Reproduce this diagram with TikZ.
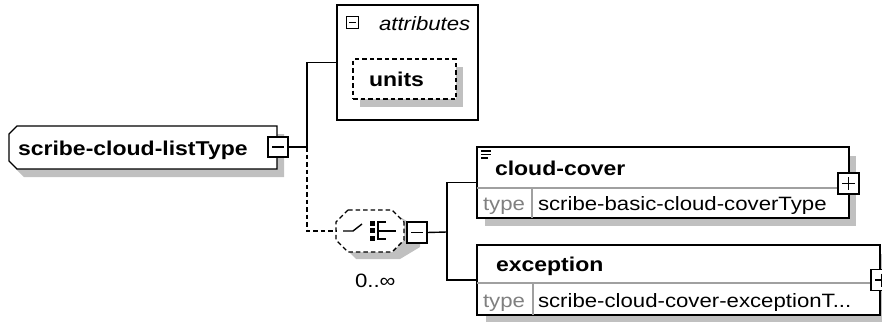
\documentclass[tikz,border=0pt]{standalone}
\usepackage{fontspec}
\setmainfont[FakeStretch=1.15]{Liberation Sans}
\definecolor{shadowgray}{HTML}{C0C0C0}
\definecolor{divgray}{HTML}{A0A0A0}
\definecolor{typegray}{HTML}{808080}
\tikzset{
  every node/.style={inner sep=0pt, outer sep=0pt},
  elbox/.style={draw=black, fill=white, line width=1.4pt, rectangle, anchor=north west},
  btnbox/.style={draw=black, fill=white, line width=1.4pt, rectangle, minimum width=20pt, minimum height=20pt},
  dashline/.style={dash pattern=on 4.5pt off 3pt},
  boldtext/.style={font=\bfseries\fontsize{20}{24}\selectfont, anchor=base west},
  regtext/.style={font=\fontsize{19.3}{23}\selectfont, anchor=base west},
  typetext/.style={font=\fontsize{19.3}{23}\selectfont, anchor=base west, text=typegray},
  divider/.style={draw=divgray, line width=1.2pt},
  conn/.style={draw=black, line width=1.4pt}
}
\begin{document}
\begin{tikzpicture}[x=1pt,y=-1pt,line width=1.4pt]
\useasboundingbox[fill=white] (0,0) rectangle (882,321);

% ---------- main complex type node ----------
\fill[shadowgray] (24,134) -- (284,134) -- (284,177) -- (24,177) -- (16,169) -- (16,142) -- cycle;
\draw[fill=white] (17,126) -- (277,126) -- (277,169) -- (17,169) -- (9,161) -- (9,134) -- cycle;
\node[boldtext] (maintxt) at (18,155) {scribe-cloud-listType};
\node[btnbox] (mainbtn) at (278,147) {};
\draw ([xshift=4pt]mainbtn.west) -- ([xshift=-4pt]mainbtn.east);

% ---------- attributes ----------
\node[elbox, minimum width=141pt, minimum height=115pt] (attr) at (337,5) {};
\node[draw=black, fill=white, line width=1.4pt, minimum width=12pt, minimum height=12pt] (attrbtn) at (352.5,22.5) {};
\draw ([xshift=2.5pt]attrbtn.west) -- ([xshift=-2.5pt]attrbtn.east);
\node[regtext, font=\itshape\fontsize{19.3}{23}\selectfont] (attrtxt) at (379,31) {attributes};
\fill[shadowgray] (360,67) rectangle (463,107);
\node[elbox, dashline, minimum width=103pt, minimum height=40pt] (units) at (353,59) {};
\node[boldtext] (unitstxt) at (369,86) {units};

% ---------- sequence compositor ----------
\fill[shadowgray] (356,217) -- (400,217) -- (420,229) -- (420,247) -- (400,259) -- (356,259) -- (344,247) -- (344,229) -- cycle;
\node[minimum width=68pt, minimum height=42pt, anchor=north west] (comp) at (336,210) {};
\draw[fill=white, dashline] (348,210) -- (392,210) -- (404,222) -- (404,240) -- (392,252) -- (348,252) -- (336,240) -- (336,222) -- cycle;
% compositor icon
\draw (343,231) -- (353,231) -- (362,224);
\fill (370,220.5) rectangle (375,225.5);
\fill (370,227.5) rectangle (375,232.5);
\fill (370,235.5) rectangle (375,240.5);
\draw (386,222) -- (378,222) -- (378,239) -- (386,239);
\draw (378,231) -- (396,231);
\node[btnbox, minimum height=21pt] (compbtn) at (417,232.5) {};
\draw ([xshift=4pt]compbtn.west) -- ([xshift=-4pt]compbtn.east);
\node[regtext] (occ) at (355,287) {0..∞};

% ---------- cloud-cover element ----------
\fill[shadowgray] (485,156) rectangle (856,226);
\node[elbox, minimum width=372pt, minimum height=71pt] (cc) at (477,147) {};
\draw[divider] (477,188) -- (849,188);
\draw[divider] (532,188) -- (532,218);
\draw[line width=1.4pt] (481,151) -- (491,151) (481,154.5) -- (491,154.5) (481,158) -- (488,158);
\node[boldtext] (cctxt) at (495,175) {cloud-cover};
\node[typetext] (cctype) at (483,210) {type};
\node[regtext] (cctypeval) at (538,210) {scribe-basic-cloud-coverType};
\node[btnbox, minimum width=21pt, minimum height=21pt] (ccbtn) at (848.5,183.5) {};
\draw ([xshift=4pt]ccbtn.west) -- ([xshift=-4pt]ccbtn.east);
\draw ([yshift=-4pt]ccbtn.north) -- ([yshift=4pt]ccbtn.south);

% ---------- exception element ----------
\fill[shadowgray] (486,254) rectangle (890,323);
\node[elbox, minimum width=403pt, minimum height=70pt] (exc) at (477,245) {};
\draw[divider] (477,283) -- (880,283);
\draw[divider] (533,283) -- (533,315);
\node[boldtext] (exctxt) at (496,271) {exception};
\node[typetext] (exctype) at (483,307) {type};
\node[regtext] (exctypeval) at (538,307) {scribe-cloud-cover-exceptionT...};
\node[btnbox, minimum width=21pt, minimum height=21pt] (excbtn) at (881.5,280) {};
\draw ([xshift=4pt]excbtn.west) -- ([xshift=-4pt]excbtn.east);
\draw ([yshift=-4pt]excbtn.north) -- ([yshift=4pt]excbtn.south);

% ---------- connectors ----------
\coordinate (j1) at (307,147);
\coordinate (j2) at (447,232);
\draw[conn] (mainbtn.east) -- (j1) |- (attr.west);
\draw[conn, dashline] (j1) |- (comp.west);
\draw[conn] (compbtn.east) -- (j2);
\draw[conn] (cc.west) -| (j2) |- (exc.west);
\end{tikzpicture}
\end{document}
